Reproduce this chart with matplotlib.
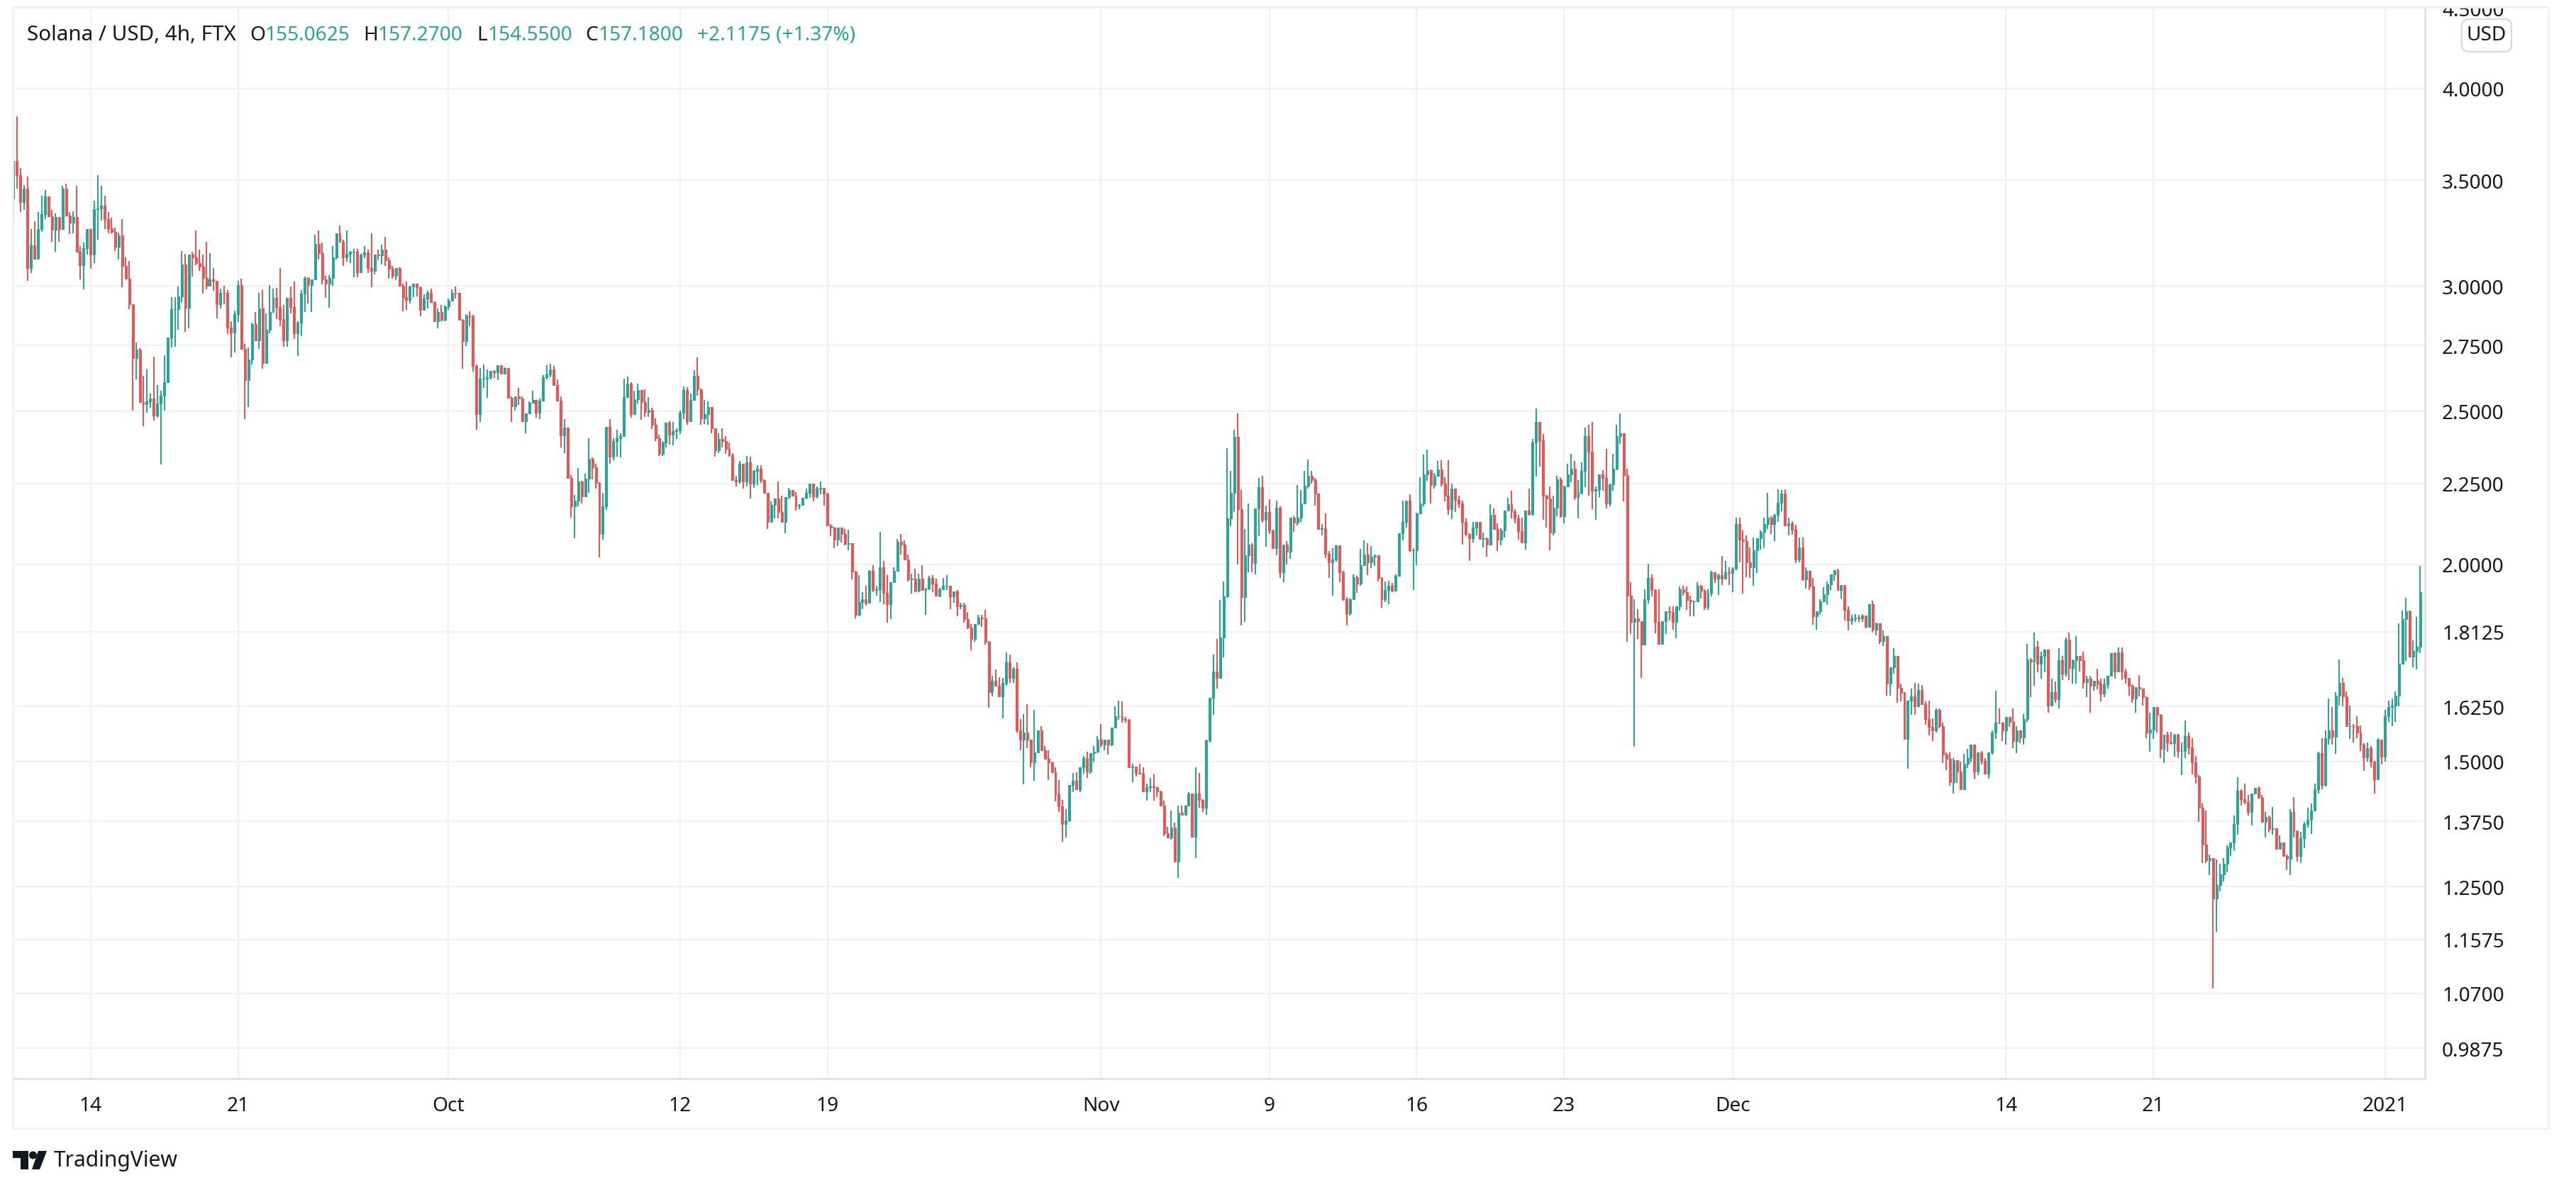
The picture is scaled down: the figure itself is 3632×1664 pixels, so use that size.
import matplotlib
matplotlib.use("Agg")
import matplotlib.pyplot as plt
import numpy as np
import pandas as pd
from matplotlib.patches import Rectangle, FancyBboxPatch, Polygon, Circle
from matplotlib.transforms import Affine2D

W, H = 3632, 1665

# 4h candles. open of a bar = close of the bar before
first_open = 3.407
closes = [
3.600,3.527,3.390,3.458,3.078,3.184,3.121,3.261,3.330,3.419,3.320,3.255,3.318,3.259,3.458,3.324,3.290,3.318,3.153,3.092,
3.171,3.258,3.140,3.357,3.360,3.374,3.307,3.262,3.245,3.175,3.231,3.089,3.033,2.920,2.700,2.735,2.534,2.524,2.536,2.545,
2.483,2.528,2.556,2.607,2.784,2.900,2.900,2.956,3.094,2.907,3.139,3.126,3.101,3.085,3.034,3.002,3.030,3.022,2.922,2.971,
2.969,2.822,2.802,2.880,3.005,2.736,2.616,2.695,2.839,2.771,2.904,2.680,2.816,2.889,2.950,2.910,2.858,2.771,2.950,2.910,
2.800,2.845,2.968,3.036,3.005,3.030,3.188,3.148,3.028,3.009,3.036,3.129,3.241,3.201,3.129,3.145,3.152,3.155,3.059,
3.141,3.150,3.080,3.068,3.140,3.136,3.162,3.115,3.077,3.046,3.080,3.002,2.953,2.938,2.998,3.011,2.995,2.898,2.947,2.971,
2.929,2.849,2.887,2.857,2.911,2.935,2.971,2.969,2.857,2.768,2.872,2.870,2.669,2.489,2.621,2.621,2.626,2.650,2.645,2.672,
2.640,2.661,2.549,2.517,2.554,2.546,2.464,2.491,2.530,2.541,2.494,2.538,2.626,2.637,2.656,2.596,2.538,2.413,2.441,2.268,
2.175,2.195,2.257,2.208,2.266,2.332,2.304,2.252,2.091,2.177,2.443,2.340,2.394,2.404,2.411,2.551,2.602,2.489,2.543,2.578,
2.533,2.496,2.504,2.451,2.404,2.349,2.389,2.459,2.416,2.428,2.431,2.494,2.578,2.464,2.541,2.632,2.581,2.474,2.489,2.514,
2.437,2.360,2.401,2.394,2.365,2.344,
2.260,2.255,2.314,2.255,2.321,2.248,2.291,2.298,2.260,2.218,2.127,2.181,2.201,2.158,2.127,2.205,2.229,2.210,2.178,2.181,
2.203,2.220,2.248,2.208,2.234,2.235,2.217,2.116,2.109,2.072,2.109,2.090,2.060,2.062,1.978,1.857,1.893,1.901,1.891,1.980,
1.927,1.928,1.990,1.919,1.887,1.949,1.980,2.066,2.058,2.013,1.957,1.958,1.925,1.959,1.927,1.931,1.961,1.945,1.911,1.929,
1.939,1.939,1.909,1.923,1.880,1.884,1.847,1.823,1.794,1.833,1.850,1.848,1.786,1.659,1.688,1.676,1.649,1.683,1.733,1.695,
1.718,1.569,1.548,1.565,1.548,1.499,1.520,1.570,1.525,1.506,1.499,1.476,1.430,1.405,1.370,1.377,1.449,
1.458,1.441,1.488,1.508,1.478,1.518,1.522,1.549,1.537,1.549,1.537,1.576,1.603,1.603,1.596,1.594,1.488,1.489,1.475,1.474,
1.436,1.445,1.446,1.445,1.436,1.406,1.351,1.343,1.362,1.296,1.392,1.388,1.406,1.431,1.344,1.432,1.419,1.402,1.547,1.646,
1.710,1.695,1.797,1.908,2.137,2.220,2.408,2.166,1.906,2.027,2.057,2.003,2.170,2.237,2.134,2.159,2.101,2.047,2.171,1.977,
2.057,2.036,2.140,2.124,2.140,2.186,2.241,2.275,2.261,2.216,2.105,2.107,2.030,2.005,2.014,2.055,1.977,1.900,1.862,1.900,
1.962,1.944,1.997,2.028,2.005,2.021,2.026,1.960,1.900,1.926,1.938,1.925,1.967,2.092,2.126,2.194,2.040,2.040,2.154,
2.186,2.279,2.293,2.244,2.274,2.295,2.249,2.209,2.166,2.232,2.197,2.184,2.126,2.090,2.077,2.109,2.128,2.074,2.077,2.057,
2.148,2.105,2.072,2.100,2.162,2.182,2.160,2.137,2.098,2.064,2.162,2.152,2.389,2.461,2.395,2.211,2.200,2.094,2.171,2.263,
2.144,2.239,2.279,2.298,2.206,2.218,2.291,2.410,2.356,2.227,2.230,2.279,2.267,2.186,2.246,2.298,2.410,2.420,2.277,1.910,
1.838,1.849,1.840,1.778,1.900,1.960,1.927,1.838,1.781,1.840,1.868,1.866,1.838,1.880,1.929,1.921,1.898,1.895,1.895,1.939,
1.925,1.878,1.919,1.976,1.958,1.968,1.958,1.976,1.974,1.986,2.120,2.072,2.068,2.005,1.990,2.040,2.077,2.096,2.120,
2.141,2.121,2.150,2.188,2.217,2.116,2.123,2.103,2.014,2.050,1.957,1.981,1.936,1.854,1.868,1.895,1.914,1.942,1.971,1.983,
1.926,1.940,1.872,1.842,1.848,1.850,1.848,1.856,1.826,1.887,1.818,1.835,1.788,1.800,1.681,1.721,1.750,1.670,1.658,1.550,
1.640,1.650,1.625,1.665,1.630,1.595,1.577,1.569,1.618,1.579,1.516,1.506,1.456,1.503,1.478,1.441,1.495,1.507,1.537,1.478,
1.520,1.501,1.474,1.520,1.564,1.588,1.587,1.569,1.601,1.590,1.546,1.569,1.554,1.596,1.741,1.736,1.774,1.729,1.750,1.766,
1.627,1.660,1.642,1.738,1.705,1.792,1.719,1.738,1.750,1.739,1.684,1.692,1.676,1.688,1.680,1.657,1.678,1.700,1.757,
1.711,1.758,1.710,1.694,1.676,1.644,1.671,1.668,1.647,1.565,1.571,1.624,1.605,1.528,1.560,1.542,1.541,1.560,1.524,1.524,
1.557,1.531,1.499,1.467,1.402,1.329,1.299,1.303,1.228,1.253,1.272,1.292,1.323,1.333,1.370,1.437,1.420,1.414,1.393,1.432,
1.444,1.423,1.373,1.383,1.360,1.361,1.321,1.333,1.307,1.302,1.393,1.356,1.307,1.342,1.370,1.378,1.397,1.440,1.519,1.450,
1.552,1.570,1.555,1.651,1.682,1.649,1.579,1.580,1.579,1.565,1.538,1.509,1.530,1.500,1.461,1.549,1.511,1.603,1.624,1.627,
1.651,1.730,1.846,1.868,1.748,1.762,1.774,1.921,
]
highs = [
3.600,3.840,3.563,3.476,3.520,3.258,3.298,3.340,3.423,3.452,3.419,3.352,3.335,3.318,3.470,3.484,3.340,3.345,3.472,3.180,
3.195,3.258,3.261,3.398,3.527,3.470,3.423,3.340,3.315,3.267,3.244,3.306,3.129,3.113,2.922,2.762,2.739,2.631,2.656,2.565,
2.706,2.596,2.575,2.712,2.784,2.953,2.953,2.999,3.158,3.144,3.139,3.152,3.254,3.162,3.139,3.201,3.148,3.081,3.024,2.987,
3.002,2.981,2.851,2.895,3.024,3.033,2.758,2.744,2.845,2.889,2.971,2.981,2.883,3.005,2.990,2.993,3.081,2.919,2.950,2.999,
3.018,2.851,2.981,3.042,3.039,3.030,3.234,3.254,3.195,3.045,3.049,3.181,3.241,3.275,3.211,3.254,3.158,3.165,3.165,
3.144,3.180,3.162,3.238,3.140,3.162,3.185,3.224,3.127,3.090,3.080,3.083,3.011,3.020,3.002,3.011,3.011,2.998,2.965,2.980,
2.990,2.932,2.902,2.917,2.914,2.947,2.986,2.998,2.971,2.860,2.878,2.890,2.875,2.675,2.661,2.675,2.656,2.650,2.653,2.672,
2.672,2.664,2.661,2.554,2.554,2.586,2.554,2.491,2.536,2.575,2.541,2.546,2.634,2.672,2.678,2.669,2.618,2.554,2.471,2.441,
2.277,2.213,2.302,2.259,2.282,2.404,2.337,2.314,2.254,2.218,2.443,2.471,2.404,2.433,2.421,2.621,2.629,2.607,2.575,2.602,
2.578,2.581,2.551,2.512,2.474,2.416,2.394,2.459,2.464,2.461,2.438,2.501,2.591,2.589,2.565,2.653,2.704,2.583,2.541,2.536,
2.501,2.433,2.420,2.437,2.411,2.387,
2.352,2.275,2.324,2.314,2.342,2.338,2.293,2.310,2.310,2.264,2.220,2.192,2.201,2.257,2.210,2.205,2.236,2.229,2.222,2.183,
2.203,2.234,2.250,2.250,2.240,2.255,2.236,2.220,2.121,2.111,2.109,2.109,2.106,2.104,2.062,1.980,1.969,1.921,1.939,1.982,
1.998,1.939,2.096,2.009,1.969,1.949,1.990,2.074,2.090,2.071,2.028,1.972,1.987,1.972,1.998,1.933,1.967,1.969,1.959,1.933,
1.961,1.969,1.939,1.923,1.927,1.891,1.891,1.866,1.833,1.833,1.858,1.858,1.872,1.788,1.700,1.715,1.697,1.695,1.759,1.753,
1.720,1.733,1.595,1.608,1.630,1.549,1.618,1.570,1.580,1.535,1.525,1.500,1.488,1.460,1.419,1.399,1.449,
1.475,1.477,1.488,1.513,1.521,1.518,1.534,1.557,1.585,1.549,1.549,1.576,1.625,1.640,1.637,1.600,1.595,1.495,1.489,1.495,
1.488,1.453,1.465,1.472,1.445,1.438,1.417,1.364,1.396,1.372,1.406,1.406,1.406,1.435,1.431,1.488,1.475,1.420,1.549,1.646,
1.753,1.793,1.899,1.950,2.368,2.291,2.434,2.491,2.228,2.105,2.186,2.061,2.170,2.268,2.275,2.178,2.198,2.103,2.193,2.176,
2.057,2.068,2.140,2.145,2.245,2.228,2.292,2.329,2.292,2.268,2.216,2.121,2.154,2.038,2.048,2.056,2.056,1.981,1.907,1.902,
1.971,1.967,2.046,2.071,2.063,2.054,2.028,2.026,1.962,1.951,1.952,1.946,1.971,2.092,2.194,2.194,2.215,2.048,2.156,
2.270,2.346,2.363,2.295,2.284,2.324,2.327,2.270,2.327,2.249,2.234,2.210,2.193,2.137,2.092,2.128,2.128,2.128,2.094,2.079,
2.182,2.170,2.122,2.107,2.162,2.204,2.226,2.166,2.148,2.140,2.162,2.232,2.400,2.510,2.461,2.418,2.213,2.239,2.209,2.274,
2.270,2.241,2.315,2.349,2.324,2.260,2.320,2.440,2.450,2.461,2.239,2.279,2.293,2.365,2.249,2.349,2.450,2.492,2.420,2.298,
1.949,1.900,1.874,1.840,1.929,2.002,1.970,1.929,1.929,1.840,1.868,1.880,1.880,1.880,1.937,1.939,1.937,1.910,1.896,1.949,
1.941,1.929,1.929,1.980,1.976,1.972,2.024,2.009,1.990,1.990,2.140,2.140,2.100,2.085,2.049,2.079,2.077,2.100,2.140,
2.220,2.144,2.151,2.231,2.229,2.231,2.141,2.130,2.118,2.080,2.080,1.991,1.981,1.961,1.868,1.900,1.934,1.950,1.971,1.983,
1.987,1.940,1.940,1.881,1.858,1.860,1.858,1.860,1.856,1.887,1.896,1.837,1.835,1.816,1.800,1.721,1.770,1.750,1.681,1.660,
1.640,1.669,1.683,1.681,1.677,1.637,1.640,1.598,1.621,1.621,1.588,1.520,1.520,1.507,1.503,1.500,1.517,1.528,1.537,1.537,
1.520,1.524,1.507,1.520,1.570,1.663,1.621,1.587,1.601,1.601,1.621,1.580,1.570,1.608,1.781,1.745,1.811,1.788,1.761,1.766,
1.766,1.692,1.686,1.770,1.750,1.798,1.811,1.741,1.800,1.750,1.761,1.700,1.699,1.688,1.718,1.692,1.692,1.700,1.757,
1.758,1.771,1.771,1.718,1.695,1.678,1.671,1.701,1.669,1.649,1.611,1.624,1.624,1.608,1.560,1.567,1.567,1.561,1.561,1.542,
1.592,1.565,1.552,1.512,1.470,1.411,1.397,1.310,1.303,1.300,1.292,1.303,1.327,1.333,1.387,1.466,1.440,1.452,1.428,1.432,
1.444,1.447,1.429,1.393,1.387,1.404,1.361,1.347,1.333,1.310,1.400,1.425,1.357,1.354,1.373,1.403,1.411,1.452,1.522,1.552,
1.570,1.644,1.624,1.659,1.741,1.694,1.661,1.627,1.584,1.603,1.581,1.540,1.542,1.534,1.502,1.552,1.549,1.617,1.639,1.644,
1.661,1.834,1.870,1.904,1.870,1.790,1.851,1.995,
]
lows = [
3.298,3.458,3.343,3.352,3.023,3.056,3.121,3.121,3.245,3.307,3.318,3.199,3.153,3.199,3.259,3.320,3.236,3.241,3.153,3.028,
2.985,3.140,3.076,3.101,3.208,3.300,3.258,3.239,3.241,3.158,3.118,2.994,3.028,2.899,2.502,2.617,2.534,2.445,2.495,2.511,
2.467,2.477,2.313,2.503,2.606,2.742,2.747,2.814,2.929,2.805,2.820,3.040,3.092,3.066,2.966,2.985,2.997,2.979,2.863,2.902,
2.922,2.797,2.703,2.722,2.846,2.736,2.472,2.516,2.675,2.771,2.736,2.658,2.680,2.800,2.887,2.858,2.828,2.747,2.747,2.881,
2.777,2.708,2.788,2.887,2.923,2.887,3.028,3.118,3.006,2.948,2.907,3.000,3.118,3.198,3.089,3.108,3.101,3.037,3.037,
3.058,3.125,3.058,2.995,3.052,3.115,3.096,3.090,3.033,3.033,3.027,3.002,2.892,2.898,2.923,2.953,2.956,2.869,2.898,2.904,
2.926,2.849,2.820,2.849,2.849,2.898,2.932,2.947,2.857,2.659,2.748,2.828,2.648,2.433,2.461,2.586,2.549,2.618,2.624,2.616,
2.640,2.640,2.546,2.461,2.501,2.522,2.464,2.421,2.489,2.528,2.476,2.471,2.536,2.618,2.626,2.596,2.538,2.372,2.352,2.268,
2.141,2.076,2.175,2.184,2.208,2.218,2.264,2.232,2.019,2.072,2.164,2.316,2.328,2.340,2.337,2.409,2.549,2.476,2.489,2.528,
2.469,2.479,2.479,2.436,2.394,2.342,2.342,2.372,2.381,2.379,2.401,2.418,2.471,2.451,2.461,2.538,2.557,2.451,2.454,2.451,
2.420,2.338,2.352,2.370,2.350,2.340,
2.259,2.240,2.250,2.232,2.240,2.200,2.235,2.244,2.252,2.218,2.106,2.127,2.138,2.138,2.127,2.093,2.199,2.210,2.162,2.167,
2.178,2.199,2.203,2.192,2.201,2.215,2.178,2.115,2.083,2.047,2.053,2.064,2.056,2.040,1.957,1.848,1.853,1.874,1.882,1.891,
1.921,1.911,1.893,1.887,1.837,1.847,1.947,1.978,2.028,2.013,1.951,1.917,1.921,1.921,1.927,1.857,1.927,1.921,1.911,1.906,
1.927,1.926,1.874,1.891,1.853,1.874,1.837,1.819,1.764,1.786,1.831,1.825,1.779,1.623,1.650,1.673,1.649,1.598,1.676,1.683,
1.682,1.564,1.525,1.451,1.529,1.488,1.458,1.519,1.525,1.506,1.460,1.476,1.415,1.393,1.335,1.343,1.373,
1.435,1.441,1.435,1.474,1.464,1.474,1.499,1.519,1.531,1.525,1.516,1.534,1.574,1.594,1.587,1.587,1.486,1.456,1.468,1.474,
1.435,1.417,1.435,1.417,1.424,1.405,1.345,1.341,1.338,1.296,1.266,1.388,1.388,1.405,1.344,1.303,1.402,1.394,1.388,1.543,
1.606,1.668,1.695,1.746,1.904,2.113,2.157,2.000,1.830,1.838,1.977,1.977,1.971,2.083,2.124,2.052,2.089,2.047,2.027,1.960,
1.948,2.000,2.016,2.096,2.116,2.126,2.186,2.234,2.250,2.178,2.105,2.085,2.018,1.960,1.911,2.007,1.948,1.897,1.830,1.855,
1.899,1.918,1.939,1.994,1.968,1.988,1.995,1.951,1.877,1.893,1.887,1.920,1.925,1.965,2.071,2.109,2.036,1.926,1.996,
2.152,2.177,2.258,2.186,2.232,2.272,2.239,2.191,2.148,2.135,2.157,2.171,2.057,2.083,2.009,2.064,2.085,2.074,2.049,2.021,
2.057,2.105,2.038,2.055,2.079,2.160,2.137,2.122,2.072,2.064,2.042,2.146,2.146,2.272,2.305,2.133,2.109,2.040,2.085,2.144,
2.141,2.122,2.237,2.253,2.197,2.139,2.215,2.237,2.209,2.166,2.133,2.206,2.227,2.169,2.177,2.225,2.293,2.383,2.191,1.787,
1.807,1.532,1.794,1.695,1.778,1.888,1.908,1.809,1.781,1.778,1.807,1.842,1.817,1.796,1.870,1.910,1.872,1.853,1.853,1.894,
1.902,1.872,1.872,1.908,1.947,1.912,1.941,1.956,1.941,1.921,1.982,2.005,1.917,1.963,1.960,1.939,1.974,2.042,2.047,
2.105,2.090,2.069,2.127,2.161,2.116,2.086,2.088,2.004,2.006,1.953,1.930,1.926,1.831,1.818,1.858,1.893,1.885,1.926,1.953,
1.926,1.902,1.842,1.815,1.831,1.839,1.839,1.839,1.822,1.826,1.811,1.803,1.781,1.775,1.652,1.652,1.705,1.635,1.637,1.550,
1.485,1.606,1.605,1.625,1.630,1.582,1.559,1.545,1.564,1.574,1.497,1.481,1.448,1.432,1.454,1.441,1.441,1.486,1.498,1.462,
1.471,1.494,1.474,1.463,1.516,1.551,1.585,1.545,1.537,1.577,1.529,1.519,1.540,1.537,1.590,1.648,1.676,1.709,1.692,1.709,
1.610,1.627,1.635,1.621,1.690,1.698,1.690,1.681,1.680,1.711,1.668,1.648,1.611,1.663,1.667,1.637,1.647,1.668,1.698,
1.693,1.711,1.690,1.680,1.652,1.635,1.610,1.649,1.627,1.552,1.521,1.551,1.565,1.508,1.496,1.521,1.538,1.511,1.508,1.471,
1.508,1.516,1.472,1.453,1.374,1.294,1.294,1.271,1.077,1.170,1.241,1.259,1.277,1.307,1.317,1.349,1.406,1.410,1.386,1.366,
1.431,1.423,1.372,1.343,1.353,1.349,1.319,1.319,1.307,1.281,1.271,1.343,1.296,1.294,1.322,1.363,1.350,1.396,1.431,1.441,
1.446,1.538,1.538,1.517,1.627,1.626,1.579,1.551,1.542,1.552,1.524,1.480,1.500,1.487,1.431,1.461,1.493,1.500,1.590,1.579,
1.590,1.625,1.730,1.737,1.748,1.720,1.716,1.757,
]

start_time = "2020-09-10 08:00"
date_ticks = ["2020-09-14", "2020-09-21", "2020-10-01", "2020-10-12", "2020-10-19", "2020-11-01", "2020-11-09",
              "2020-11-16", "2020-11-23", "2020-12-01", "2020-12-14", "2020-12-21", "2021-01-01"]
date_labels = ["14", "21", "Oct", "12", "19", "Nov", "9", "16", "23", "Dec", "14", "21", "2021"]
price_ticks = [0.9875, 1.07, 1.1575, 1.25, 1.375, 1.5, 1.625, 1.8125, 2.0, 2.25, 2.5, 2.75, 3.0, 3.5, 4.0, 4.5]

GREEN = "#26a69a"
RED = "#ef5350"
INK = "#131722"
GRID = "#f0f1f4"

plt.rcParams["font.family"] = "Noto Sans"

n = min(len(closes), len(highs), len(lows))
c = np.array(closes[:n])
hi = np.array(highs[:n])
lo = np.array(lows[:n])
o = np.r_[first_open, c[:-1]]
x = np.arange(n)
colors = np.where(c >= o, GREEN, RED)

fig = plt.figure(figsize=(W / 100, H / 100), dpi=100, facecolor="white")
ax = fig.add_axes([18 / W, 1 - 1522 / H, (3419 - 18) / W, (1522 - 12) / H])

# crisp pixels like the reference, no smoothing on the candles
ax.vlines(x, lo, hi, colors=colors, linewidth=1.44, zorder=3, antialiased=False)
ax.bar(x, np.abs(c - o), bottom=np.minimum(o, c), width=0.6, color=colors, edgecolor=colors, linewidth=0.72,
       zorder=4, antialiased=False)

ax.set_yscale("log")
ax.set_xlim(-0.2, 687.4)
ax.set_ylim(0.9449, 4.498)

times = pd.date_range(start_time, periods=n, freq="4h")
tick_pos = [times.get_loc(pd.Timestamp(d)) for d in date_ticks]
ax.set_xticks(tick_pos)
ax.set_xticklabels(date_labels)
ax.get_xticklabels()[-1].set_fontweight("bold")
ax.yaxis.tick_right()
ax.set_yticks(price_ticks)
ax.set_yticklabels(["%.4f" % p for p in price_ticks])
ax.yaxis.set_minor_locator(matplotlib.ticker.NullLocator())
ax.tick_params(axis="y", length=0, pad=17.3, labelsize=20.2, labelcolor=INK)
ax.tick_params(axis="x", length=0, pad=17, labelsize=20.2, labelcolor=INK)
ax.grid(True, color=GRID, linewidth=1.6)
ax.set_axisbelow(True)

for side in ["top", "left"]:
    ax.spines[side].set_visible(False)
for side in ["right", "bottom"]:
    ax.spines[side].set_color("#e0e1e6")
    ax.spines[side].set_linewidth(2.0)

# page furniture placed in picture pixels, y down
px = Affine2D().scale(1, -1).translate(0, H)

fig.add_artist(Rectangle((3420, 0), 172, 11, transform=px, facecolor="white", edgecolor="none", zorder=5))
fig.add_artist(Rectangle((18, 11), 3575, 1581, transform=px, facecolor="none", edgecolor="#eff0f5", linewidth=1.9, zorder=6))
fig.add_artist(FancyBboxPatch((3471, 28), 70, 46, boxstyle="round,pad=0,rounding_size=10", transform=px,
                              facecolor="white", edgecolor="#d6d9e3", linewidth=1.6, zorder=6))
fig.text(3506, 50, "USD", transform=px, ha="center", va="center", fontsize=20.2, color=INK, zorder=7)

header = [
    (38, "Solana / USD, 4h, FTX", INK, 21.3),
    (352, "O", INK, 20.2), (373, "155.0625", GREEN, 20.2),
    (512, "H", INK, 20.2), (532, "157.2700", GREEN, 20.2),
    (672, "L", INK, 20.2), (687, "154.5500", GREEN, 20.2),
    (825, "C", INK, 20.2), (843, "157.1800", GREEN, 20.2),
    (983, "+2.1175 (+1.37%)", GREEN, 20.2),
]
for hx, txt, col, size in header:
    fig.text(hx, 50, txt, transform=px, ha="left", va="center", fontsize=size, color=col, zorder=7)

# TradingView logo
fig.add_artist(Polygon([(18, 1624), (40, 1624), (40, 1650), (29, 1650), (29, 1634), (18, 1634)], closed=True,
                       transform=px, facecolor=INK, edgecolor="none"))
fig.add_artist(Circle((46.5, 1630), 5.5, transform=px, facecolor=INK, edgecolor="none"))
fig.add_artist(Polygon([(54, 1624), (66, 1624), (56, 1650), (45, 1650)], closed=True,
                       transform=px, facecolor=INK, edgecolor="none"))
fig.text(76, 1637, "TradingView", transform=px, ha="left", va="center", fontsize=21.6, color=INK)

fig.savefig("out.png", dpi=100, facecolor="white")
